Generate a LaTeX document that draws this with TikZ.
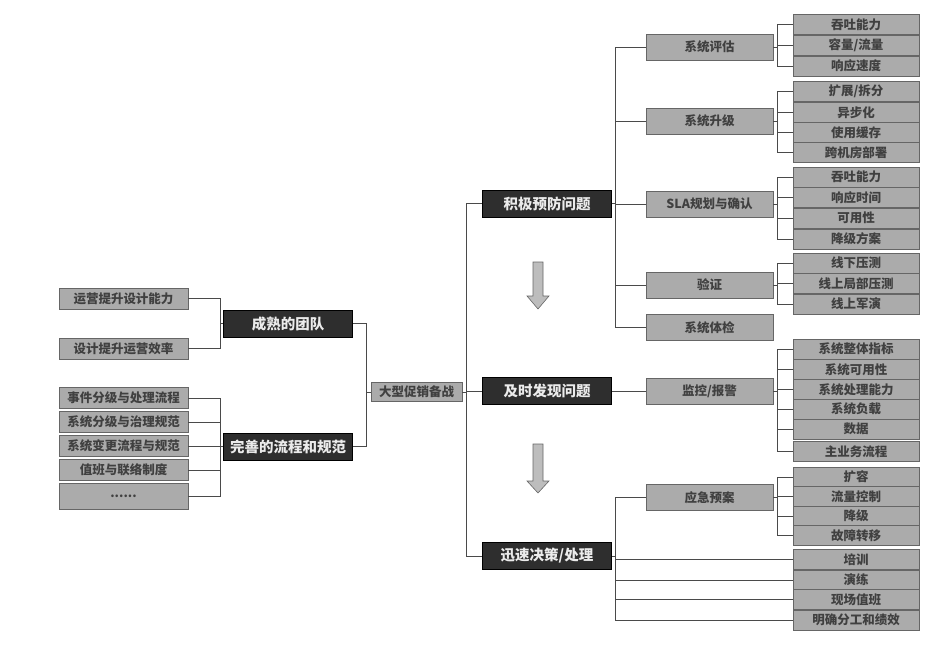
\documentclass[tikz,border=0pt]{standalone}
\usepackage{fontspec}
\setmainfont{Noto Sans CJK SC}
\usepackage{tikz}
\usetikzlibrary{positioning}
\definecolor{boxgray}{HTML}{ABABAB}
\definecolor{boxline}{HTML}{666666}
\definecolor{darkbox}{HTML}{2E2E2E}
\definecolor{linkgray}{HTML}{4A4A4A}
\definecolor{arrowgray}{HTML}{BDBDBD}

\begin{document}
\begin{tikzpicture}[
    x=1pt, y=-1pt,
    font=\fontsize{12.5}{14}\selectfont,
    box/.style={draw=boxline, fill=boxgray, text=black!75, inner sep=0pt, line width=0.7pt,
                font=\fontsize{12.5}{14}\selectfont\bfseries},
    leaf/.style={box, minimum width=126, minimum height=20},
    lleaf/.style={box, minimum width=129, minimum height=21},
    mid/.style={box, minimum width=127, minimum height=26},
    root/.style={box, minimum width=91, minimum height=19},
    dark/.style={draw=black, fill=darkbox, text=white!92!black, inner sep=0pt, line width=0.7pt,
                 minimum width=129, minimum height=27, font=\fontsize{14.5}{16}\selectfont\bfseries},
    link/.style={draw=linkgray, line width=0.7pt},
    blockarrow/.style={draw=boxline, fill=arrowgray, line width=0.6pt}
]
\useasboundingbox (0,0) rectangle (938,666);

% ---- left leaves ----
\node[lleaf] (lA) at (123.5,298.5) {运营提升设计能力};
\node[lleaf] (lB) at (123.5,348.5) {设计提升运营效率};
\node[lleaf] (lC) at (123.5,398)   {事件分级与处理流程};
\node[lleaf] (lD) at (123.5,422)   {系统分级与治理规范};
\node[lleaf] (lE) at (123.5,446)   {系统变更流程与规范};
\node[lleaf] (lF) at (123.5,470)   {值班与联络制度};
\node[lleaf, minimum height=26] (lG) at (123.5,496) {......};

% ---- main branches ----
\node[dark] (team) at (288,323.5) {成熟的团队};
\node[dark] (proc) at (288,446.5) {完善的流程和规范};
\node[root] (root) at (416.5,392) {大型促销备战};
\node[dark] (prev) at (547,203.5) {积极预防问题};
\node[dark] (find) at (547,391)   {及时发现问题};
\node[dark] (act)  at (547,556)   {迅速决策/处理};

% ---- second level ----
\node[mid] (eval) at (709.5,47)    {系统评估};
\node[mid] (upg)  at (709.5,121)   {系统升级};
\node[mid] (sla)  at (709.5,204)   {SLA规划与确认};
\node[mid] (veri) at (709.5,285)   {验证};
\node[mid] (chk)  at (709.5,327.5) {系统体检};
\node[mid] (mon)  at (709.5,391)   {监控/报警};
\node[mid] (plan) at (709.5,497.5) {应急预案};

% ---- right leaves ----
\node[leaf] (eA) at (856,24.5) {吞吐能力};
\node[leaf] (eB) at (856,45)   {容量/流量};
\node[leaf] (eC) at (856,66)   {响应速度};

\node[leaf] (uA) at (856,91)    {扩展/拆分};
\node[leaf] (uB) at (856,112.5) {异步化};
\node[leaf] (uC) at (856,132.5) {使用缓存};
\node[leaf] (uD) at (856,152.5) {跨机房部署};

\node[leaf] (sA) at (856,177)   {吞吐能力};
\node[leaf] (sB) at (856,197.5) {响应时间};
\node[leaf] (sC) at (856,218)   {可用性};
\node[leaf] (sD) at (856,239)   {降级方案};

\node[leaf] (vA) at (856,263)   {线下压测};
\node[leaf] (vB) at (856,283.5) {线上局部压测};
\node[leaf] (vC) at (856,304)   {线上军演};

\node[leaf] (mA) at (856,349)   {系统整体指标};
\node[leaf] (mB) at (856,369.5) {系统可用性};
\node[leaf] (mC) at (856,389.5) {系统处理能力};
\node[leaf] (mD) at (856,409)   {系统负载};
\node[leaf] (mE) at (856,429)   {数据};
\node[leaf] (mF) at (856,451.5) {主业务流程};

\node[leaf] (pA) at (856,477)   {扩容};
\node[leaf] (pB) at (856,496.5) {流量控制};
\node[leaf] (pC) at (856,516)   {降级};
\node[leaf] (pD) at (856,535.5) {故障转移};

\node[leaf] (aA) at (856,559.5) {培训};
\node[leaf] (aB) at (856,580)   {演练};
\node[leaf] (aC) at (856,599.5) {现场值班};
\node[leaf] (aD) at (856,620)   {明确分工和绩效};

% ---- connectors, left half ----
\foreach \c in {lA,lB}
  \draw[link] (\c.east) -| ([xshift=-3pt]team.west) -- (team.west);
\foreach \c in {lC,lD,lE,lF,lG}
  \draw[link] (\c.east) -| ([xshift=-3pt]proc.west) -- (proc.west);
\foreach \c in {team,proc}
  \draw[link] (root.west) -- ++(-4,0) |- (\c.east);

% ---- connectors, right half ----
\foreach \c in {prev,find,act}
  \draw[link] (root.east) -- ++(4,0) |- (\c.west);
\foreach \c in {eval,upg,sla,veri,chk}
  \draw[link] (prev.east) -- ++(3,0) |- (\c.west);
\draw[link] (find.east) -- (mon.west);
\foreach \c in {plan,aA,aB,aC,aD}
  \draw[link] (act.east) -- ++(3,0) |- (\c.west);

\foreach \p/\list in {eval/{eA,eB,eC}, upg/{uA,uB,uC,uD}, sla/{sA,sB,sC,sD},
                      veri/{vA,vB,vC}, mon/{mA,mB,mC,mD,mE,mF}, plan/{pA,pB,pC,pD}}
  \foreach \c in \list
    \draw[link] (\p.east) -- ++(4,0) |- (\c.west);

% ---- block arrows between phases ----
\draw[blockarrow] (533,262) -- (543,262) -- (543,296) -- (549,296) -- (538,309)
                  -- (527,296) -- (533,296) -- cycle;
\draw[blockarrow] (533,444) -- (543,444) -- (543,481) -- (549,481) -- (538,493)
                  -- (527,481) -- (533,481) -- cycle;

\end{tikzpicture}
\end{document}
